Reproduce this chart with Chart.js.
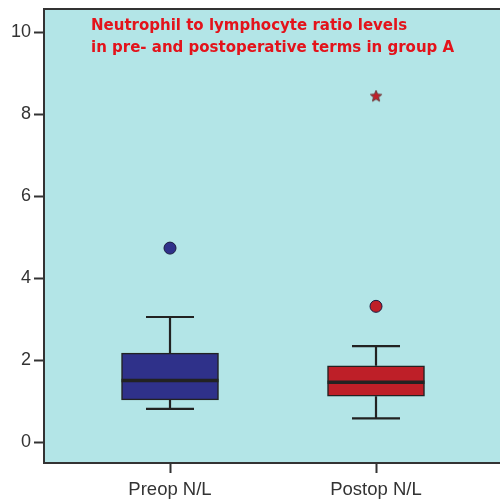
<!DOCTYPE html>
<html>
<head>
<meta charset="utf-8">
<script src="https://cdn.jsdelivr.net/npm/chart.js@4.4.1/dist/chart.umd.min.js"></script>
<style>
html,body{margin:0;padding:0;background:#fff;overflow:hidden;}
canvas{display:block;}
</style>
</head>
<body>
<canvas id="c" width="500" height="501" style="width:500px;height:501px"></canvas>
<script>
// ---- data ----
const categories = ["Preop N/L", "Postop N/L"];
const q1Values = [1.04, 1.13];
const q3Values = [2.18, 1.87];
const medianValues = [1.51, 1.47];
const whiskerLow = [0.82, 0.59];
const whiskerHigh = [3.06, 2.35];
const outlierCircles = [[4.74], [3.32]];
const outlierStars = [[], [8.44]];
const yTicks = [0, 2, 4, 6, 8, 10];
const titleLines = ["Neutrophil to lymphocyte ratio levels", "in pre- and postoperative terms in group A"];

const boxColors = ["#2f318a", "#be1f28"];
const edgeColor = "#222222";

// star point style
function makeStar(size, fill, stroke) {
  const cv = document.createElement('canvas');
  cv.width = size; cv.height = size;
  const c = cv.getContext('2d');
  const cx = size / 2, cy = size / 2, R = size / 2 - 1, r = R * 0.45;
  c.beginPath();
  for (let i = 0; i < 10; i++) {
    const ang = -Math.PI / 2 + i * Math.PI / 5;
    const rad = i % 2 === 0 ? R : r;
    const x = cx + rad * Math.cos(ang), y = cy + rad * Math.sin(ang);
    if (i === 0) c.moveTo(x, y); else c.lineTo(x, y);
  }
  c.closePath();
  c.fillStyle = fill; c.fill();
  c.lineWidth = 1; c.strokeStyle = stroke; c.stroke();
  return cv;
}
const starImg = makeStar(14, "#c0202a", "#6a3a3a");

const boxData = categories.map((_, i) => ({ x: i + 1, y: [q1Values[i], q3Values[i]] }));
const circleData = [];
const circleColors = [];
outlierCircles.forEach((arr, i) => arr.forEach(v => { circleData.push({ x: i + 1, y: v }); circleColors.push(boxColors[i]); }));
const starData = [];
outlierStars.forEach((arr, i) => arr.forEach(v => starData.push({ x: i + 1, y: v })));

const bgPlugin = {
  id: 'bg',
  beforeDraw(chart) {
    const { ctx, chartArea: a } = chart;
    ctx.save();
    ctx.fillStyle = "#b3e5e7";
    ctx.fillRect(a.left, a.top, chart.width - a.left, a.bottom - a.top);
    ctx.restore();
  },
  afterDraw(chart) {
    const { ctx, chartArea: a } = chart;
    ctx.save();
    ctx.strokeStyle = "#333";
    ctx.lineWidth = 2;
    ctx.beginPath();
    ctx.moveTo(a.left, a.top); ctx.lineTo(chart.width, a.top);
    ctx.moveTo(a.right, a.bottom); ctx.lineTo(chart.width, a.bottom);
    ctx.stroke();
    ctx.fillStyle = "#e3131b";
    ctx.font = "bold 15px 'DejaVu Sans', Verdana, sans-serif";
    ctx.textBaseline = "alphabetic";
    ctx.fillText(titleLines[0], 91, 29.5);
    ctx.fillText(titleLines[1], 91, 52);
    ctx.restore();
  }
};

const whiskerPlugin = {
  id: 'whiskers',
  afterDatasetsDraw(chart) {
    const { ctx, scales: { x, y } } = chart;
    ctx.save();
    ctx.strokeStyle = edgeColor;
    const capHalf = 24;
    const boxHalf = 48.5;
    categories.forEach((_, i) => {
      const px = x.getPixelForValue(i + 1);
      ctx.lineWidth = 2.2;
      ctx.beginPath();
      ctx.moveTo(px, y.getPixelForValue(q3Values[i]));
      ctx.lineTo(px, y.getPixelForValue(whiskerHigh[i]));
      ctx.moveTo(px - capHalf, y.getPixelForValue(whiskerHigh[i]));
      ctx.lineTo(px + capHalf, y.getPixelForValue(whiskerHigh[i]));
      ctx.moveTo(px, y.getPixelForValue(q1Values[i]));
      ctx.lineTo(px, y.getPixelForValue(whiskerLow[i]));
      ctx.moveTo(px - capHalf, y.getPixelForValue(whiskerLow[i]));
      ctx.lineTo(px + capHalf, y.getPixelForValue(whiskerLow[i]));
      ctx.stroke();
      ctx.lineWidth = 3.5;
      ctx.beginPath();
      ctx.moveTo(px - boxHalf, y.getPixelForValue(medianValues[i]));
      ctx.lineTo(px + boxHalf, y.getPixelForValue(medianValues[i]));
      ctx.stroke();
    });
    ctx.restore();
  }
};

new Chart(document.getElementById('c'), {
  type: 'bar',
  data: {
    datasets: [
      {
        type: 'bar',
        data: boxData,
        backgroundColor: boxColors,
        borderColor: edgeColor,
        borderWidth: 1.5,
        borderSkipped: false,
        barThickness: 97,
        grouped: false,
        order: 2
      },
      {
        type: 'scatter',
        data: circleData,
        backgroundColor: circleColors,
        borderColor: "#1a1a40",
        borderWidth: 1,
        pointRadius: 6,
        pointHoverRadius: 6,
        order: 1
      },
      {
        type: 'scatter',
        data: starData,
        pointStyle: starImg,
        pointRadius: 7,
        order: 1
      }
    ]
  },
  options: {
    responsive: false,
    devicePixelRatio: 1,
    animation: false,
    events: [],
    layout: { padding: { top: 9, right: 0, left: 0, bottom: 0 } },
    plugins: { legend: { display: false }, tooltip: { enabled: false }, title: { display: false } },
    scales: {
      x: {
        type: 'linear',
        offset: false,
        min: 0.3883,
        max: 2.5631,
        afterBuildTicks(s) { s.ticks = categories.map((_, i) => ({ value: i + 1 })); },
        afterFit(s) { s.height = 38; s.paddingLeft = 0; s.paddingRight = 0; },
        grid: { offset: false, drawOnChartArea: false, tickLength: 10, tickWidth: 2, tickColor: "#333" },
        border: { display: true, color: "#333", width: 2 },
        ticks: {
          autoSkip: false,
          maxRotation: 0,
          padding: 6,
          color: "#333",
          font: { family: "'Liberation Sans', Arial, sans-serif", size: 18.5 },
          callback(v) { return categories[Math.round(v) - 1]; }
        }
      },
      y: {
        type: 'linear',
        min: -0.5,
        max: 10.57,
        afterBuildTicks(s) { s.ticks = yTicks.map(v => ({ value: v })); },
        afterFit(s) { s.width = 44; s.paddingTop = 0; s.paddingBottom = 0; },
        grid: { drawOnChartArea: false, tickLength: 10, tickWidth: 2, tickColor: "#333" },
        border: { display: true, color: "#333", width: 2 },
        ticks: {
          padding: 3,
          color: "#333",
          font: { family: "'Liberation Sans', Arial, sans-serif", size: 18 }
        }
      }
    }
  },
  plugins: [bgPlugin, whiskerPlugin]
});
</script>
</body>
</html>
